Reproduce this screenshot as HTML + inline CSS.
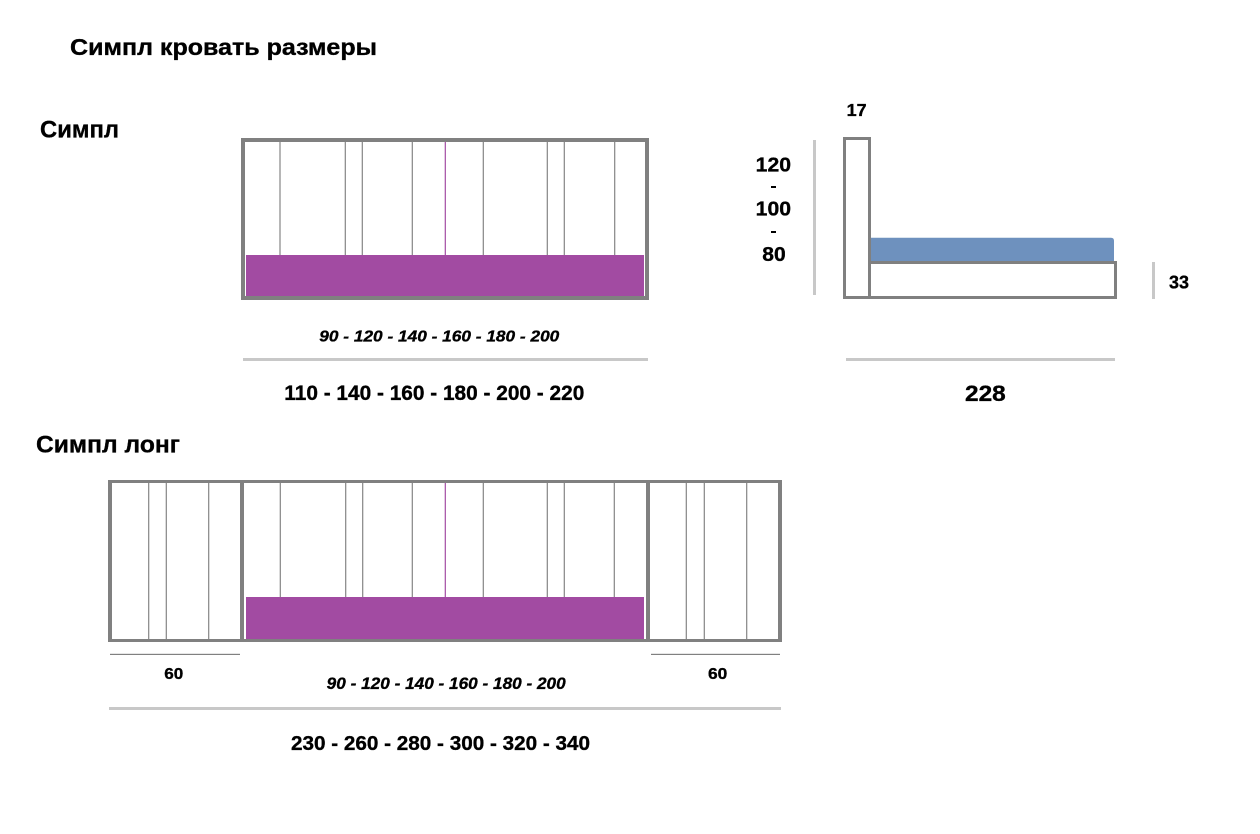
<!DOCTYPE html>
<html>
<head>
<meta charset="utf-8">
<style>
  html, body { margin:0; padding:0; background:#ffffff; }
  body { width:1260px; height:834px; overflow:hidden; }
  svg { display:block; }
  text { font-family: "Liberation Sans", "DejaVu Sans", sans-serif; font-weight:bold; fill:#000; stroke:#000; stroke-width:0.35px; }
</style>
</head>
<body>
<svg width="1260" height="834" viewBox="0 0 1260 834" xmlns="http://www.w3.org/2000/svg">
  <!-- Titles -->
  <text x="70" y="55" font-size="23" textLength="307" lengthAdjust="spacingAndGlyphs">Симпл кровать размеры</text>
  <text x="40" y="137.3" font-size="24" textLength="79" lengthAdjust="spacingAndGlyphs">Симпл</text>
  <text x="36" y="452.7" font-size="24.5" textLength="144" lengthAdjust="spacingAndGlyphs">Симпл лонг</text>

  <!-- ===== Top bed (Симпл) ===== -->
  <rect x="246" y="255" width="398" height="42" fill="#A24BA2"/>
  <g stroke="#858585" stroke-width="1.2">
    <line x1="280" y1="142" x2="280" y2="255"/>
    <line x1="345.3" y1="142" x2="345.3" y2="255"/>
    <line x1="362.3" y1="142" x2="362.3" y2="255"/>
    <line x1="412.3" y1="142" x2="412.3" y2="255"/>
    <line x1="483.3" y1="142" x2="483.3" y2="255"/>
    <line x1="547.3" y1="142" x2="547.3" y2="255"/>
    <line x1="564.3" y1="142" x2="564.3" y2="255"/>
    <line x1="614.7" y1="142" x2="614.7" y2="255"/>
  </g>
  <line x1="445.3" y1="142" x2="445.3" y2="255" stroke="#A24BA2" stroke-width="1.2"/>
  <g fill="#808080">
    <rect x="241" y="138" width="408" height="4"/>
    <rect x="241" y="296" width="408" height="4"/>
    <rect x="241" y="138" width="4" height="162"/>
    <rect x="645" y="138" width="4" height="162"/>
  </g>
  <text x="319.3" y="341.7" font-size="16" font-style="italic" textLength="240" lengthAdjust="spacingAndGlyphs">90 - 120 - 140 - 160 - 180 - 200</text>
  <rect x="243" y="358" width="405" height="3" fill="#C8C8C8"/>
  <text x="284.3" y="400" font-size="21" textLength="300" lengthAdjust="spacingAndGlyphs">110 - 140 - 160 - 180 - 200 - 220</text>

  <!-- ===== Side view ===== -->
  <text x="846.7" y="116" font-size="17.5" textLength="20" lengthAdjust="spacingAndGlyphs">17</text>
  <text x="755.7" y="171.7" font-size="20" textLength="35.3" lengthAdjust="spacingAndGlyphs">120</text>
  <rect x="771" y="186" width="5" height="2" fill="#000"/>
  <text x="755.7" y="215.7" font-size="20" textLength="35.3" lengthAdjust="spacingAndGlyphs">100</text>
  <rect x="771" y="231" width="5" height="2" fill="#000"/>
  <text x="762.3" y="261" font-size="20" textLength="23.4" lengthAdjust="spacingAndGlyphs">80</text>
  <rect x="813" y="140" width="3" height="155" fill="#C8C8C8"/>

  <!-- blue mattress with rounded top-right -->
  <path d="M871 237.7 H1111 Q1114 237.7 1114 240.7 V262 H871 Z" fill="#6E91BE"/>
  <g fill="#808080">
    <!-- headboard -->
    <rect x="843" y="137" width="28" height="3"/>
    <rect x="843" y="296" width="28" height="3"/>
    <rect x="843" y="137" width="3" height="162"/>
    <rect x="868" y="137" width="3" height="162"/>
    <!-- base -->
    <rect x="868" y="261" width="249" height="3"/>
    <rect x="868" y="296" width="249" height="3"/>
    <rect x="1114" y="261" width="3" height="38"/>
  </g>
  <rect x="1152" y="262" width="3" height="37" fill="#C8C8C8"/>
  <text x="1169" y="288.7" font-size="18.5" textLength="20" lengthAdjust="spacingAndGlyphs">33</text>
  <rect x="846" y="358" width="269" height="3" fill="#C8C8C8"/>
  <text x="965" y="401" font-size="22.3" textLength="40.7" lengthAdjust="spacingAndGlyphs">228</text>

  <!-- ===== Long bed (Симпл лонг) ===== -->
  <rect x="246" y="597" width="398" height="42.5" fill="#A24BA2"/>
  <g stroke="#858585" stroke-width="1.2">
    <!-- left section -->
    <line x1="148.7" y1="483" x2="148.7" y2="639"/>
    <line x1="166.3" y1="483" x2="166.3" y2="639"/>
    <line x1="208.7" y1="483" x2="208.7" y2="639"/>
    <!-- center section -->
    <line x1="280.3" y1="483" x2="280.3" y2="597"/>
    <line x1="345.7" y1="483" x2="345.7" y2="597"/>
    <line x1="362.7" y1="483" x2="362.7" y2="597"/>
    <line x1="412.3" y1="483" x2="412.3" y2="597"/>
    <line x1="483.3" y1="483" x2="483.3" y2="597"/>
    <line x1="547.3" y1="483" x2="547.3" y2="597"/>
    <line x1="564.3" y1="483" x2="564.3" y2="597"/>
    <line x1="614.3" y1="483" x2="614.3" y2="597"/>
    <!-- right section -->
    <line x1="686.3" y1="483" x2="686.3" y2="639"/>
    <line x1="704.3" y1="483" x2="704.3" y2="639"/>
    <line x1="746.7" y1="483" x2="746.7" y2="639"/>
  </g>
  <line x1="445.3" y1="483" x2="445.3" y2="597" stroke="#A24BA2" stroke-width="1.2"/>
  <g fill="#808080">
    <rect x="108" y="480" width="674" height="3"/>
    <rect x="108" y="639" width="674" height="3"/>
    <rect x="108" y="480" width="4" height="162"/>
    <rect x="240" y="480" width="4" height="162"/>
    <rect x="646" y="480" width="4" height="162"/>
    <rect x="778" y="480" width="4" height="162"/>
  </g>
  <!-- thin dimension lines -->
  <rect x="110" y="653.8" width="130" height="1.2" fill="#808080"/>
  <rect x="651" y="653.8" width="129" height="1.2" fill="#808080"/>
  <text x="164.3" y="679" font-size="16" textLength="19" lengthAdjust="spacingAndGlyphs">60</text>
  <text x="708" y="679" font-size="16" textLength="19.3" lengthAdjust="spacingAndGlyphs">60</text>
  <text x="326.7" y="689" font-size="16.5" font-style="italic" textLength="239" lengthAdjust="spacingAndGlyphs">90 - 120 - 140 - 160 - 180 - 200</text>
  <rect x="109" y="707" width="672" height="3" fill="#C8C8C8"/>
  <text x="291" y="750" font-size="20.5" textLength="299" lengthAdjust="spacingAndGlyphs">230 - 260 - 280 - 300 - 320 - 340</text>
</svg>
</body>
</html>
